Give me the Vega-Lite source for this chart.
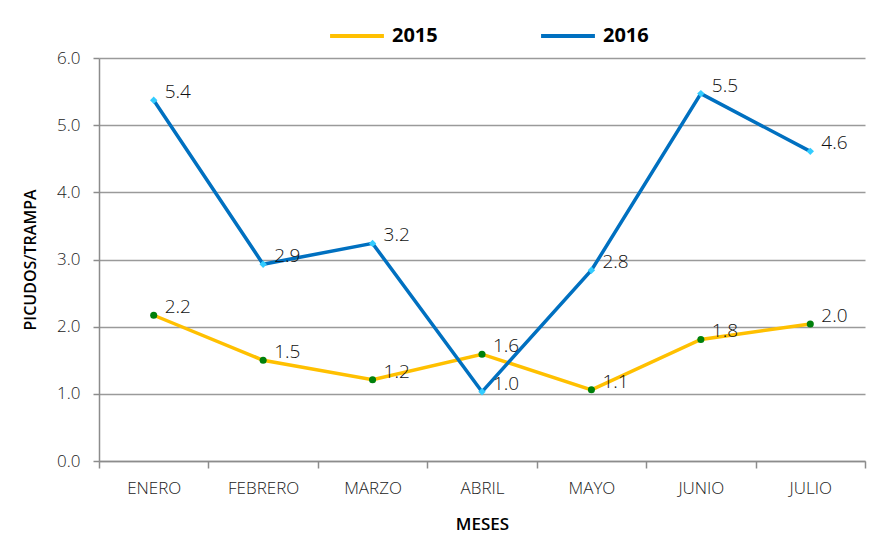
{
  "$schema": "https://vega.github.io/schema/vega-lite/v6.json",
  "width": 766,
  "height": 403,
  "autosize": "none",
  "padding": {"left": 99, "top": 58, "right": 14, "bottom": 81},
  "background": "white",
  "config": {
    "font": "Open Sans",
    "view": {"stroke": null}
  },
  "data": {
    "values": [
      {"mes": "ENERO", "anio": "2015", "valor": 2.17},
      {"mes": "FEBRERO", "anio": "2015", "valor": 1.5},
      {"mes": "MARZO", "anio": "2015", "valor": 1.21},
      {"mes": "ABRIL", "anio": "2015", "valor": 1.59},
      {"mes": "MAYO", "anio": "2015", "valor": 1.06},
      {"mes": "JUNIO", "anio": "2015", "valor": 1.81},
      {"mes": "JULIO", "anio": "2015", "valor": 2.04},
      {"mes": "ENERO", "anio": "2016", "valor": 5.37},
      {"mes": "FEBRERO", "anio": "2016", "valor": 2.93},
      {"mes": "MARZO", "anio": "2016", "valor": 3.24},
      {"mes": "ABRIL", "anio": "2016", "valor": 1.03},
      {"mes": "MAYO", "anio": "2016", "valor": 2.84},
      {"mes": "JUNIO", "anio": "2016", "valor": 5.47},
      {"mes": "JULIO", "anio": "2016", "valor": 4.61}
    ]
  },
  "encoding": {
    "x": {
      "field": "mes",
      "type": "nominal",
      "sort": ["ENERO", "FEBRERO", "MARZO", "ABRIL", "MAYO", "JUNIO", "JULIO"],
      "scale": {"type": "band", "paddingInner": 0, "paddingOuter": 0},
      "axis": {
        "title": "MESES",
        "titleFontSize": 17,
        "titleFontWeight": 600,
        "titleColor": "#000000",
        "titlePadding": 20,
        "labelAngle": 0,
        "labelFontSize": 17,
        "labelFontWeight": 300,
        "labelColor": "#222222",
        "labelPadding": 12,
        "tickBand": "extent",
        "tickSize": 7,
        "tickColor": "#8c8c8c",
        "tickWidth": 1.5,
        "domainColor": "#8c8c8c",
        "domainWidth": 1.5,
        "grid": false
      }
    },
    "y": {
      "field": "valor",
      "type": "quantitative",
      "scale": {"domain": [0, 6]},
      "axis": {
        "title": "PICUDOS/TRAMPA",
        "titleFontSize": 16,
        "titleFontWeight": 600,
        "titleColor": "#000000",
        "titlePadding": 18,
        "values": [0, 1, 2, 3, 4, 5, 6],
        "format": ".1f",
        "labelFontSize": 17,
        "labelFontWeight": 300,
        "labelColor": "#222222",
        "labelPadding": 13,
        "tickSize": 6,
        "tickColor": "#8c8c8c",
        "tickWidth": 1.5,
        "domainColor": "#8c8c8c",
        "domainWidth": 1.5,
        "grid": true,
        "gridColor": "#9a9a9a",
        "gridWidth": 1.5
      }
    }
  },
  "layer": [
    {
      "mark": {"type": "line", "strokeWidth": 3.5},
      "encoding": {
        "color": {
          "field": "anio",
          "type": "nominal",
          "scale": {"domain": ["2015", "2016"], "range": ["#FFC000", "#0070C0"]},
          "legend": {
            "title": null,
            "orient": "none",
            "legendX": 229,
            "legendY": -51,
            "direction": "horizontal",
            "symbolType": "stroke",
            "symbolSize": 2900,
            "symbolStrokeWidth": 4,
            "labelFontSize": 20,
            "labelFontWeight": "bold",
            "labelColor": "#000000",
            "labelOffset": 6,
            "columnPadding": 95
          }
        }
      }
    },
    {
      "transform": [{"filter": "datum.anio == '2015'"}],
      "mark": {"type": "point", "filled": true, "shape": "circle", "size": 50, "opacity": 1, "color": "#00800B"},
      "encoding": {}
    },
    {
      "transform": [{"filter": "datum.anio == '2016'"}],
      "mark": {"type": "point", "filled": true, "shape": "diamond", "size": 55, "opacity": 1, "color": "#33CCFF"},
      "encoding": {}
    },
    {
      "mark": {"type": "text", "align": "left", "baseline": "middle", "dx": 11, "dy": -8, "fontSize": 19, "fontWeight": 300, "color": "#111111"},
      "encoding": {
        "text": {"field": "valor", "type": "quantitative", "format": ".1f"}
      }
    }
  ]
}
